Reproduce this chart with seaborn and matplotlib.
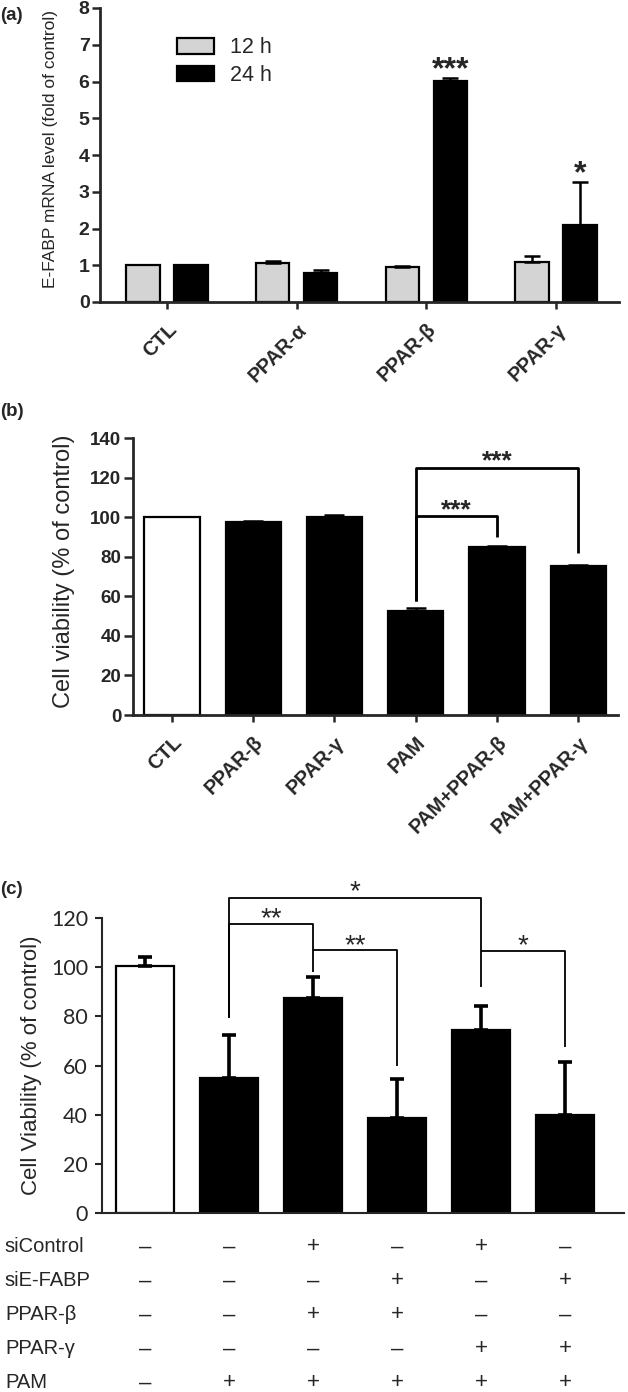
import matplotlib
matplotlib.use("Agg")
import numpy as np
import pandas as pd
import matplotlib.pyplot as plt
import matplotlib.transforms as mtransforms
from matplotlib.patches import Patch
import seaborn as sns

# ---- data -------------------------------------------------------------
# (a) E-FABP mRNA level, fold of control
groups_a = ["CTL", "PPAR-α", "PPAR-β", "PPAR-γ"]
times_a = ["12 h", "24 h"]
mean_12h = [1.0, 1.06, 0.95, 1.10]
sd_12h = [0.0, 0.06, 0.02, 0.14]
mean_24h = [1.0, 0.79, 6.02, 2.10]
sd_24h = [0.0, 0.07, 0.07, 1.17]
stars_24h = ["", "", "***", "*"]

# (b) cell viability
groups_b = ["CTL", "PPAR-β", "PPAR-γ", "PAM", "PAM+PPAR-β", "PAM+PPAR-γ"]
mean_b = [100.0, 97.5, 100.3, 52.5, 84.8, 75.3]
sd_b = [0.0, 0.5, 1.0, 1.5, 0.6, 0.6]
# (left bar, right bar, text)
brackets_b = [(3, 4, "***"), (3, 5, "***")]

# (c) cell viability with siRNA
mean_c = [100.5, 55.0, 87.6, 38.6, 74.6, 40.0]
sd_c = [3.7, 17.4, 8.3, 16.0, 9.6, 21.6]
rows_c = ["siControl", "siE-FABP", "PPAR-β", "PPAR-γ", "PAM"]
signs_c = [
    ["–", "–", "+", "–", "+", "–"],
    ["–", "–", "–", "+", "–", "+"],
    ["–", "–", "+", "+", "–", "–"],
    ["–", "–", "–", "–", "+", "+"],
    ["–", "+", "+", "+", "+", "+"],
]
brackets_c = [(1, 2, "**"), (1, 4, "*"), (2, 3, "**"), (4, 5, "*")]

# bracket geometry (top, left leg end, right leg end, star gap) in data units
bracket_geom_b = [(100.5, 57.7, 90.0, 5.1), (125.0, 57.7, 82.0, 5.3)]
bracket_geom_c = [(117.5, 79.3, 98.0, 3.9), (128.0, 79.3, 92.0, 4.4),
                  (107.0, 107.0, 60.0, 3.6), (106.5, 106.5, 67.5, 4.0)]

# ---- style ------------------------------------------------------------
sns.set_style("ticks")
plt.rcParams["font.family"] = ["Liberation Sans", "DejaVu Sans"]

W, H = 628, 1392
fig = plt.figure(figsize=(W / 100, H / 100), dpi=100)


def px_axes(l, t, r, b):
    return fig.add_axes([l / W, 1 - b / H, (r - l) / W, (b - t) / H])


def add_errbars(ax, bars, sds, lw=1.8, cap=6):
    for bar, sd in zip(bars, sds):
        if sd <= 0:
            continue
        x = bar.get_x() + bar.get_width() / 2
        h = bar.get_height()
        ax.errorbar(x, h, yerr=[[0], [sd]], fmt="none", ecolor="black",
                    elinewidth=lw, capsize=cap, capthick=lw, zorder=1)


def star(ax, x, y, txt, fs, weight):
    # put the visual centre of the asterisks at (x, y)
    ax.annotate(txt, (x, y), xytext=(0, -0.43 * fs), textcoords="offset points",
                ha="center", va="baseline", fontsize=fs, fontweight=weight,
                annotation_clip=False)


def add_brackets(ax, specs, geoms, lw, fs, weight):
    for (i, j, txt), (top, lb, rb, gap) in zip(specs, geoms):
        ax.plot([i, i, j, j], [lb, top, top, rb], color="black", lw=lw,
                solid_capstyle="butt", clip_on=False)
        star(ax, (i + j) / 2, top + gap, txt, fs, weight)


# ---- (a) ----------------------------------------------------------------
ax = px_axes(100, 8, 619, 302)
df_a = pd.DataFrame({
    "group": groups_a * 2,
    "time": [times_a[0]] * 4 + [times_a[1]] * 4,
    "value": mean_12h + mean_24h,
})
pal_a = ["#d4d4d4", "black"]
sns.barplot(data=df_a, x="group", y="value", hue="time", order=groups_a,
            hue_order=times_a, palette=pal_a, edgecolor="black", linewidth=1.6,
            width=0.74, gap=0.31, errorbar=None, legend=False, ax=ax)
for cont, sds in zip(ax.containers, [sd_12h, sd_24h]):
    add_errbars(ax, cont, sds)
for bar, m, sd, s in zip(ax.containers[1], mean_24h, sd_24h, stars_24h):
    if s:
        star(ax, bar.get_x() + bar.get_width() / 2, m + sd + 0.36, s, 23, "bold")
ax.set_ylim(0, 8)
ax.set_xlim(-0.517, 3.486)
ax.set_yticks(range(0, 9))
ax.set_xlabel("")
ax.set_ylabel("E-FABP mRNA level (fold of control)", fontsize=12.5)
ax.yaxis.set_label_coords(-0.08, 0.52)
ax.tick_params(axis="y", width=1.8, length=6, pad=1.5, labelsize=14)
ax.tick_params(axis="x", width=1.8, length=5, pad=8)
plt.setp(ax.get_yticklabels(), fontweight="bold")
plt.setp(ax.get_xticklabels(), fontweight="bold", fontsize=14.5, rotation=45,
         ha="right", rotation_mode="anchor")
for sp in ["left", "bottom"]:
    ax.spines[sp].set_linewidth(2)
sns.despine(ax=ax)
handles = [Patch(facecolor=c, edgecolor="black", linewidth=1.6, label=t)
           for c, t in zip(pal_a, times_a)]
ax.legend(handles=handles, loc="upper left", bbox_to_anchor=(0.148, 0.9),
          frameon=False, fontsize=15.5, handlelength=1.75, handleheight=0.72,
          handletextpad=0.7, labelspacing=0.32, borderaxespad=0, borderpad=0)

# ---- (b) ----------------------------------------------------------------
ax = px_axes(133, 438, 618, 715)
pal_b = ["white"] + ["black"] * 5
sns.barplot(x=groups_b, y=mean_b, hue=groups_b, order=groups_b,
            hue_order=groups_b, palette=pal_b, edgecolor="black",
            linewidth=1.6, width=0.68, errorbar=None, legend=False, ax=ax)
bars_b = sorted([p for c in ax.containers for p in c], key=lambda p: p.get_x())
add_errbars(ax, bars_b, sd_b, cap=7)
add_brackets(ax, brackets_b, bracket_geom_b, lw=2, fs=19, weight="bold")
ax.set_ylim(0, 140)
ax.set_xlim(-0.48, 5.49)
ax.set_yticks(range(0, 141, 20))
ax.set_ylabel("Cell viability (% of control)", fontsize=17)
ax.yaxis.set_label_coords(-0.12, 0.52)
ax.tick_params(axis="y", width=1.8, length=6.5, pad=2, labelsize=13.5)
ax.tick_params(axis="x", width=1.8, length=5, pad=8)
plt.setp(ax.get_yticklabels(), fontweight="bold")
plt.setp(ax.get_xticklabels(), fontweight="bold", fontsize=14.5, rotation=45,
         ha="right", rotation_mode="anchor")
for sp in ["left", "bottom"]:
    ax.spines[sp].set_linewidth(2)
sns.despine(ax=ax)

# ---- (c) ----------------------------------------------------------------
ax = px_axes(102, 918, 624, 1213)
pos_c = list(range(len(mean_c)))
pal_c = ["white"] + ["black"] * 5
sns.barplot(x=pos_c, y=mean_c, hue=pos_c, order=pos_c, hue_order=pos_c,
            palette=pal_c, edgecolor="black", linewidth=1.6, width=0.69,
            errorbar=None, legend=False, ax=ax)
bars_c = sorted([p for c in ax.containers for p in c], key=lambda p: p.get_x())
add_errbars(ax, bars_c, sd_c, lw=2.6, cap=5)
add_brackets(ax, brackets_c, bracket_geom_c, lw=1.3, fs=20, weight="normal")
ax.set_ylim(0, 120)
ax.set_xlim(-0.51, 5.70)
ax.set_yticks(range(0, 121, 20))
ax.set_yticklabels([str(v) for v in range(0, 121, 20)], family="Lato", fontsize=15.5)
ax.set_ylabel("Cell Viability (% of control)", fontsize=16)
ax.yaxis.set_label_coords(-0.115, 0.5)
ax.tick_params(axis="y", width=1.5, length=5, pad=5)
ax.tick_params(axis="x", length=0, labelbottom=False)
for sp in ["left", "bottom"]:
    ax.spines[sp].set_linewidth(1.5)
sns.despine(ax=ax)

trans = mtransforms.blended_transform_factory(ax.transData, ax.transAxes)
for r, (lab, signs) in enumerate(zip(rows_c, signs_c)):
    y = -0.115 - r * 0.1153
    ax.text(-0.186, y, lab, transform=ax.transAxes, ha="left", va="center",
            fontsize=14.5)
    for k, s in enumerate(signs):
        ax.text(pos_c[k], y, s, transform=trans, ha="center", va="center",
                fontsize=16)

# panel letters
for lab, ypx in [("(a)", 15), ("(b)", 412), ("(c)", 890)]:
    fig.text(0.0, 1 - ypx / H, lab, ha="left", va="center", fontsize=13.5,
             fontweight="bold")

fig.savefig("out.png", dpi=100)
